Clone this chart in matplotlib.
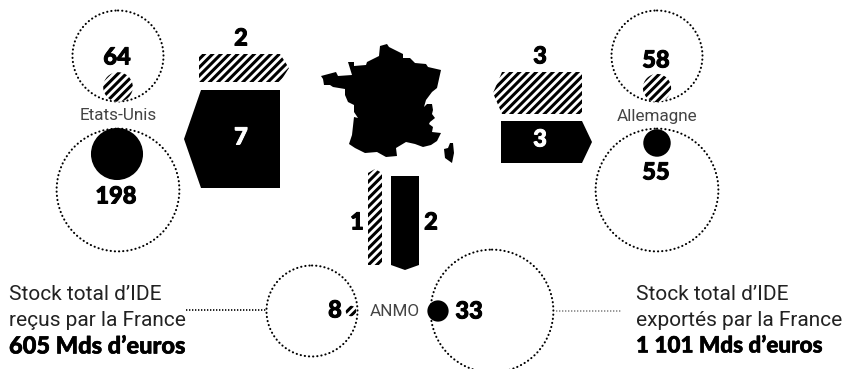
import matplotlib
matplotlib.use("Agg")
import matplotlib.pyplot as plt
import matplotlib.patheffects as pe
from matplotlib.patches import Circle, Polygon

# stocks in Mds d'euros
total_stock = [605, 1101]
partners = ["Etats-Unis", "Allemagne", "ANMO"]
stock_recu = [64, 58, 8]
stock_exporte = [198, 55, 33]
flux_recu = [2, 3, 1]
flux_exporte = [7, 3, 2]

# france outline
france_x = [321, 336, 338, 352, 348, 354, 354, 366, 367, 379, 380, 387, 389, 403, 403, 410, 415, 426,
            428, 441, 437, 432, 426, 424, 427, 432, 433, 432, 435, 430, 429, 433, 432, 441, 437, 431,
            423, 415, 406, 396, 397, 386, 377, 365, 355, 349, 352, 354, 358, 354, 354, 348, 345, 345,
            333, 330, 324, 323]
france_y = [76, 72, 76, 75, 62, 62, 66, 65, 62, 56, 46, 44, 47, 54, 58, 58, 63, 64,
            67, 70, 88, 92, 100, 107, 104, 104, 110, 114, 118, 122, 124, 127, 132, 133, 141, 145,
            147, 144, 142, 148, 156, 157, 152, 153, 148, 144, 135, 117, 118, 112, 105, 102, 95, 89,
            87, 85, 85, 79]
corse_x = [444, 448, 450, 453, 454, 452, 445]
corse_y = [149, 148, 143, 143, 153, 163, 158]

K_CIRCLE = 1.85  # px per sqrt(Md)
K_BAR = 14  # px per Md
HATCH = "////"
plt.rcParams["hatch.linewidth"] = 2.2

fig = plt.figure(figsize=(8.46, 3.69), dpi=100)
ax = fig.add_axes([0, 0, 1, 1])
ax.set_xlim(0, 846)
ax.set_ylim(369, 0)
ax.axis("off")


def radius(value):
    return K_CIRCLE * value ** 0.5


def dotted(cx, cy, value):
    ax.add_patch(Circle((cx, cy), radius(value), fill=False, ec="black", lw=1.5,
                        ls=(0, (0.1, 1.9)), capstyle="round"))


def disc(cx, cy, value, hatched=False):
    if hatched:
        ax.add_patch(Circle((cx, cy), radius(value), fc="white", ec="black", lw=0, hatch=HATCH))
    else:
        ax.add_patch(Circle((cx, cy), radius(value), fc="black", ec="none"))


def draw_poly(pts, hatched):
    if hatched:
        ax.add_patch(Polygon(pts, closed=True, fc="white", ec="black", lw=0, hatch=HATCH))
    else:
        ax.add_patch(Polygon(pts, closed=True, fc="black", ec="none"))


def bar_h(x0, x1, y0, value, tip, hatched=False):
    # horizontal arrow, tip < 0 points left
    h = value * K_BAR
    if tip > 0:
        pts = [(x0, y0), (x1, y0), (x1 + tip, y0 + h / 2), (x1, y0 + h), (x0, y0 + h)]
    else:
        pts = [(x1, y0), (x0, y0), (x0 + tip, y0 + h / 2), (x0, y0 + h), (x1, y0 + h)]
    draw_poly(pts, hatched)


def bar_v(x0, y0, y1, value, tip, hatched=False):
    # vertical arrow, tip < 0 points up
    w = value * K_BAR
    if tip > 0:
        pts = [(x0, y0), (x0 + w, y0), (x0 + w, y1), (x0 + w / 2, y1 + tip), (x0, y1)]
    else:
        pts = [(x0, y1), (x0 + w, y1), (x0 + w, y0), (x0 + w / 2, y0 + tip), (x0, y0)]
    draw_poly(pts, hatched)


def heavy(x, y, txt, size, color="black", ha="center", fat=0.7):
    ax.text(x, y, txt, ha=ha, va="center", family="Lato", weight="black", fontsize=size, color=color,
            path_effects=[pe.withStroke(linewidth=fat, foreground=color)])


def num(x, y, value, color="black"):
    heavy(x, y, str(value), 17, color)


def name(x, y, txt):
    ax.text(x, y, txt, ha="center", va="center", family="Roboto", fontsize=12.3, color="#444444")


# dotted circles = total stock
dotted(118, 56, total_stock[0])
dotted(118, 190, total_stock[1])
dotted(657, 56, total_stock[0])
dotted(657, 190, total_stock[1])
dotted(312, 311, total_stock[0])
dotted(492, 311, total_stock[1])

# inner discs
disc(118, 87, stock_recu[0], hatched=True)
disc(117, 154, stock_exporte[0])
disc(657, 88, stock_recu[1], hatched=True)
disc(657, 143, stock_exporte[1])
disc(351, 311, stock_recu[2], hatched=True)
disc(438, 311, stock_exporte[2])

# flows
bar_h(199, 280, 54, flux_recu[0], 9, hatched=True)
bar_h(201, 280, 90, flux_exporte[0], -17)
bar_h(502, 582, 72, flux_recu[1], -9, hatched=True)
bar_h(501, 582, 121, flux_exporte[1], 10)
bar_v(368, 173, 265, flux_recu[2], -4, hatched=True)
bar_v(391, 176, 265, flux_exporte[2], 5)

# france
ax.add_patch(Polygon(list(zip(france_x, france_y)), closed=True, fc="black", ec="none"))
ax.add_patch(Polygon(list(zip(corse_x, corse_y)), closed=True, fc="black", ec="none"))

# leaders
ax.plot([186, 266], [310, 310], color="black", lw=1.2, ls=(0, (0.8, 1)))
ax.plot([556, 622], [311, 311], color="#888888", lw=1.2, ls=(0, (0.8, 1)))

# numbers
num(117, 57, stock_recu[0])
num(116, 196, stock_exporte[0])
num(656, 60, stock_recu[1])
num(656, 172, stock_exporte[1])
num(335, 310, stock_recu[2])
num(469, 311, stock_exporte[2])
num(241, 38, flux_recu[0])
num(241, 137, flux_exporte[0], color="white")
num(540, 56, flux_recu[1])
num(540, 139, flux_exporte[1], color="white")
num(357, 222, flux_recu[2])
num(431, 222, flux_exporte[2])

name(118, 115, partners[0])
name(657, 117, partners[1])
name(395, 311, partners[2])

# side labels
for x, lines in [(9, ["Stock total d\u2019IDE", "re\u00e7us par la France"]),
                 (636, ["Stock total d\u2019IDE", "export\u00e9s par la France"])]:
    ax.text(x, 294, lines[0], ha="left", va="center", family="Roboto", fontsize=15, color="#222222")
    ax.text(x, 321, lines[1], ha="left", va="center", family="Roboto", fontsize=15, color="#222222")
heavy(9, 346, f"{total_stock[0]} Mds d\u2019euros", 17, ha="left", fat=0.4)
heavy(636, 346, "1 101 Mds d\u2019euros", 16.2, ha="left", fat=0.4)

fig.savefig("out.png", dpi=100)
